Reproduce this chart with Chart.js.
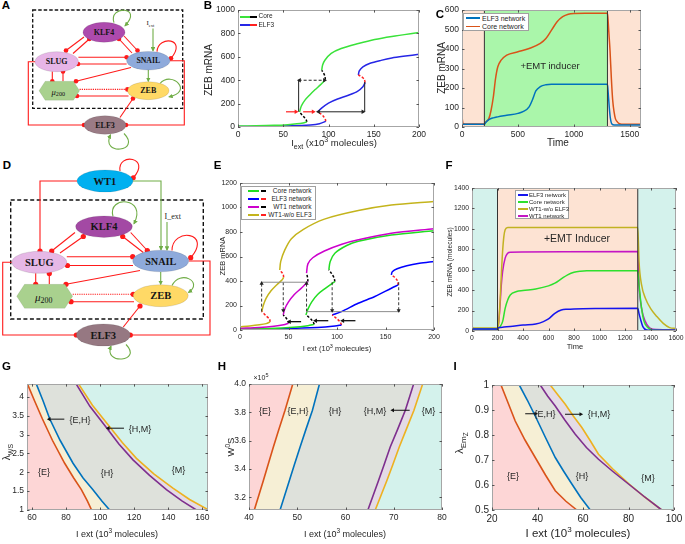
<!DOCTYPE html>
<html><head><meta charset="utf-8">
<script src="https://cdn.jsdelivr.net/npm/chart.js@4.4.0/dist/chart.umd.min.js"></script>
<style>
html,body{margin:0;padding:0;width:685px;height:544px;overflow:hidden;background:#fff;font-family:"Liberation Sans",Arial,Helvetica,sans-serif;}
.abs{position:absolute;white-space:nowrap;line-height:1;color:#262626;}
canvas{position:absolute;}
.leg{position:absolute;background:#fff;border:0.8px solid #a0a0a0;box-sizing:border-box;}
.li{position:absolute;white-space:nowrap;line-height:1;color:#262626;}
.sw{position:absolute;height:1.6px;}
#diag{position:absolute;left:0;top:0;}
</style></head><body>
<svg id="diag" width="685" height="544" xmlns="http://www.w3.org/2000/svg"></svg>
<script>
// ================= DATA =================
// Panel B : ZEB mRNA vs I_ext (x10^3 molecules)
const bXTicks = [0, 50, 100, 150, 200];
const bYTicks = [0, 200, 400, 600, 800, 1000];
const bCoreLow = [[0,8],[20,10],[40,14],[55,20],[65,27],[72,35],[76,43]];
const bCoreUn1 = [[76,43],[75.5,58],[73.5,80],[70.5,105],[68,128]];
const bCoreMid = [[68,128],[70,180],[74,230],[79,272],[85,318],[91,360],[95,392],[96.5,405]];
const bCoreUn2 = [[96.5,405],[96,435],[94.5,462],[92.5,485]];
const bCoreUp  = [[92.5,485],[93.5,530],[96,571],[103,629],[114,671],[133,714],[151,749],[170,775],[200,809]];
const bElfLow  = [[0,4],[30,6],[60,10],[80,18],[90,28],[97,48]];
const bElfUn1  = [[97,48],[96.5,65],[94.5,90],[91.5,112],[88,130]];
const bElfMid  = [[88,130],[92,160],[100,205],[110,240],[122,272],[132,305],[138,345],[140.5,380]];
const bElfUn2  = [[140.5,380],[139.5,408],[136.5,430],[133,445]];
const bElfUp   = [[133,445],[134,480],[138,515],[146,545],[158,570],[170,590],[185,607],[200,622]];
const bSolid   = [[[88,130],[139,130]], [[140,130],[140,385]], [[67,130],[67,400]]];
const bDashed  = [[[67,400],[96.5,400]]];
const bHeadsL  = [[89,130],[68,400]];
const bHeadsR  = [[138,130],[95.5,400]];
const bRedArrows = [[[53,130],[64,130]], [[72,130],[83,130]]];

// Panel C : time course
const cXTicks = [0, 500, 1000, 1500];
const cYTicks = [0, 100, 200, 300, 400, 500, 600];
const cPhases = [0, 200, 1300, 1600];
const cCoreT = [0,10,50,100,150,200,210,240,260,280,300,320,350,400,500,600,700,750,800,850,900,950,1000,1100,1200,1300,1305,1312,1323,1335,1347,1360,1371,1390,1407,1450,1600];
const cCoreY = [50,17,15,15,15,15,24,43,86,154,249,309,343,369,386,403,429,454,497,540,566,579,583,584,584,584,555,490,394,250,137,75,43,25,17,14,14];
const cElfT  = [0,100,200,210,240,280,320,400,500,550,600,630,660,700,750,800,1000,1300,1305,1315,1325,1340,1360,1600];
const cElfY  = [14,14,14,22,38,47,52,60,70,80,103,140,185,207,217,220,220,220,190,110,50,15,10,10];

// Panel E : bifurcation diagrams of four networks
const eXTicks = [0, 50, 100, 150, 200];
const eYTicks = [0, 200, 400, 600, 800, 1000, 1200];
const eCore = [
  [[0,8],[30,12],[55,22],[70,35],[76.5,46]],
  [[76.5,46],[75.5,65],[73,90],[70.5,108],[68,123]],
  [[68,123],[70,170],[74,230],[80,290],[88,340],[95,380],[97.8,395]],
  [[97.8,395],[97,425],[94.5,460],[91.6,491]],
  [[91.6,491],[93,560],[97.8,627],[110,690],[122,725],[156,775],[200,810]]];
const eElf = [
  [[0,5],[40,10],[80,20],[98,32],[104.6,41]],
  [[104.6,41],[103.5,62],[100.5,88],[97.5,108],[95,123]],
  [[95,123],[104.6,150],[121.8,218],[139,273],[156,341],[163,368]],
  [[163,368],[162.5,400],[159.5,430],[156,450]],
  [[156,450],[157,475],[162,500],[172,525],[185,545],[200,560]]];
const eWt1 = [
  [[0,14],[20,20],[35,30],[45,42],[50,55]],
  [[50,55],[49.5,75],[47.5,98],[44.6,123]],
  [[44.6,123],[46,170],[50,230],[56,290],[63,340],[68,380],[70,395]],
  [[70,395],[69.8,420],[69.2,445],[68.6,464]],
  [[68.6,464],[70,540],[75,590],[87,645],[105,700],[122,736],[156,790],[200,826]]];
const eWt1NoElf = [
  [[0,27],[10,33],[20,42],[27,52],[31,66]],
  [[31,66],[30.5,88],[27,115],[22.5,150]],
  [[22.5,150],[24,200],[27,260],[32,320],[38,370],[43.5,410],[45,430]],
  [[45,430],[44.5,455],[42.5,475],[41,490]],
  [[41,490],[42,560],[46,650],[53,745],[65,820],[87,905],[122,975],[156,1020],[200,1050]]];
const eGray   = [[[22.3,390],[70,390]], [[68,150],[165,150]]];
const eDashUp = [[22.3,150,390],[68.6,150,390]];
const eDashDn = [[44.6,390,150],[95,390,150],[163.6,390,150]];
const eLeftArrows = [[63,51,68],[91,78,76],[119,106,76]];

// Panel F : time course
const fXTicks = [0,200,400,600,800,1000,1200,1400,1600];
const fYTicks = [0,200,400,600,800,1000,1200,1400];
const fPhases = [0, 200, 1300, 1600];
const fElfT  = [0,100,200,210,250,300,400,500,560,600,650,700,750,800,1000,1300,1310,1320,1340,1370,1400,1600];
const fElfY  = [20,20,20,33,38,43,59,69,92,118,173,206,213,216,220,222,170,124,43,10,8,8];
const fCoreT = [0,100,200,220,240,260,280,300,350,400,500,600,650,700,750,800,850,900,1300,1310,1330,1350,1380,1420,1600];
const fCoreY = [20,20,20,43,92,222,304,353,386,396,412,442,468,510,550,576,586,589,589,451,222,92,33,10,8];
const fNoElfT = [0,100,200,210,220,230,240,250,260,280,300,1300,1310,1330,1360,1400,1450,1500,1550,1600];
const fNoElfY = [30,30,30,92,288,550,778,926,991,1014,1014,1014,680,451,321,222,141,75,33,25];
const fWt1T  = [0,10,100,200,210,220,230,240,260,280,300,1300,1310,1330,1360,1400,1450,1600];
const fWt1Y  = [50,20,20,20,92,255,451,582,713,762,772,778,451,222,92,26,15,12];

// Panel G : lambda_WS vs I_ext
const gXTicks = [60, 80, 100, 120, 140, 160];
const gYTicks = [1, 1.5, 2, 2.5, 3, 3.5, 4];
const gRed    = [[57.4,4.34],[61.5,3.9],[66.1,3.42],[72,2.85],[79.2,2.24],[84.5,1.85],[89,1.54],[92.5,1.24],[95,1.0]];
const gBlue   = [[62.6,4.34],[66.5,3.9],[70.4,3.42],[76.5,2.85],[84.1,2.24],[90,1.85],[95.8,1.54],[101,1.24],[105.6,1.0]];
const gPurple = [[86,4.34],[94,3.75],[104,3.17],[111,2.75],[119.3,2.33],[129,1.92],[138.9,1.54],[148,1.24],[156.5,1.0]];
const gOrange = [[87.4,4.34],[95.5,3.78],[105.6,3.21],[113,2.79],[121.3,2.37],[131.5,1.96],[142.7,1.58],[152.5,1.28],[163.3,1.01]];
const gArrows = [[79,70.2,3.41],[114,104.8,3.17]];

// Panel H : W0S (x10^5) vs I_ext
const hXTicks = [40, 50, 60, 70, 80];
const hYTicks = [3.2, 3.4, 3.6, 3.8, 4];
const hRed    = [[49.07,4.0],[47.47,3.815],[46.2,3.68],[45.05,3.555],[43.95,3.43],[42.98,3.318],[41.1,3.11]];
const hBlue   = [[54.6,4.0],[53.15,3.815],[51.8,3.68],[50.59,3.555],[49.4,3.43],[48.37,3.318],[46.44,3.11]];
const hPurple = [[74.12,4.0],[72.4,3.815],[70.8,3.68],[69.27,3.555],[68.0,3.43],[66.85,3.318],[64.64,3.11]];
const hOrange = [[75.99,4.0],[74.19,3.815],[72.6,3.68],[71.14,3.555],[69.8,3.43],[68.58,3.318],[66.16,3.11]];
const hArrows = [[73.3,69.8,3.815]];

// Panel I : lambda_EmZ vs I_ext
const iXTicks = [20, 40, 60, 80, 100];
const iYTicks = [0.5, 0.6, 0.7, 0.8, 0.9, 1];
const iRed    = [[23.95,1.0],[27,0.93],[30.2,0.856],[34.5,0.78],[39.0,0.71],[43.5,0.64],[47.8,0.577],[52.5,0.535],[57.3,0.5]];
const iBlue   = [[32.0,1.0],[35.5,0.94],[39.0,0.876],[43.5,0.79],[47.8,0.71],[51.5,0.655],[55.1,0.604],[59,0.55],[63.2,0.5]];
const iPurple = [[41.2,1.0],[44.5,0.955],[47.8,0.916],[52,0.86],[56.6,0.803],[61.5,0.75],[66.8,0.703],[73,0.655],[80,0.604],[87,0.553],[94.6,0.5]];
const iOrange = [[45.6,1.0],[49,0.96],[52.2,0.923],[55.8,0.875],[59.5,0.83],[63,0.78],[66.8,0.723],[73,0.665],[80,0.606],[87,0.553],[94.6,0.5]];
const iArrows = [[34.6,39.2,0.885],[52.1,59.0,0.883]];

// ================= HELPERS =================
const FONT = '"Liberation Sans", Arial, Helvetica, sans-serif';
const P = a => a.map(p => ({x: p[0], y: p[1]}));
const zip = (t, y) => t.map((v, i) => [v, y[i]]);
function line(d, color, o = {}) {
  return Object.assign({data: P(d), borderColor: color, backgroundColor: color, borderWidth: 1.5,
    pointRadius: 0, fill: false, tension: 0.3, order: 2}, o);
}
function shape(d, color) {
  return {data: P(d), borderWidth: 0, borderColor: 'rgba(0,0,0,0)', backgroundColor: color,
    fill: 'shape', pointRadius: 0, tension: 0, order: 10};
}
function heads(pts, color, rot, r = 3) {
  return {data: P(pts), showLine: false, pointStyle: 'triangle', pointRadius: r, pointRotation: rot,
    backgroundColor: color, borderColor: color, borderWidth: 0, order: 0};
}
const framePlugin = {
  id: 'frame',
  afterDraw(chart) {
    const {ctx, chartArea: a, scales} = chart;
    ctx.save();
    ctx.strokeStyle = '#a6a6a6'; ctx.lineWidth = 1;
    ctx.strokeRect(Math.round(a.left) + 0.5, Math.round(a.top) + 0.5, Math.round(a.width) - 1, Math.round(a.height) - 1);
    ctx.strokeStyle = '#555';
    ctx.beginPath();
    scales.x.ticks.forEach(t => { const px = Math.round(scales.x.getPixelForValue(t.value)) + 0.5;
      ctx.moveTo(px, a.bottom); ctx.lineTo(px, a.bottom - 2.5); ctx.moveTo(px, a.top); ctx.lineTo(px, a.top + 2.5); });
    scales.y.ticks.forEach(t => { const py = Math.round(scales.y.getPixelForValue(t.value)) + 0.5;
      ctx.moveTo(a.left, py); ctx.lineTo(a.left + 2.5, py); ctx.moveTo(a.right, py); ctx.lineTo(a.right - 2.5, py); });
    ctx.stroke();
    ctx.restore();
  }
};
function makeChart(c) {
  const yW = 32, xH = 18, padT = 8, padR = 16;
  const cv = document.createElement('canvas');
  const W = yW + (c.R - c.L) + padR, H = padT + (c.B - c.T) + xH;
  cv.width = W; cv.height = H;
  Object.assign(cv.style, {left: (c.L - yW) + 'px', top: (c.T - padT) + 'px', width: W + 'px', height: H + 'px'});
  document.body.appendChild(cv);
  const tk = (vals, fmt) => ({
    afterBuildTicks: s => { s.ticks = vals.map(v => ({value: v})); },
    grid: {display: false, drawTicks: false}, border: {display: false},
    ticks: {font: {family: FONT, size: c.fs}, color: '#262626', padding: 3, maxRotation: 0, autoSkip: false,
      callback: fmt || (v => String(v))}
  });
  const x = Object.assign({type: 'linear', position: 'bottom', min: c.xMin, max: c.xMax,
    afterFit: s => { s.height = xH; }}, tk(c.xTicks, c.xFmt));
  const y = Object.assign({type: 'linear', position: 'left', min: c.yMin, max: c.yMax,
    afterFit: s => { s.width = yW; }}, tk(c.yTicks, c.yFmt));
  return new Chart(cv, {
    type: 'line',
    data: {datasets: c.datasets},
    options: {responsive: false, animation: false, events: [], devicePixelRatio: 1,
      layout: {padding: {top: padT, right: padR, left: 0, bottom: 0}},
      plugins: {legend: {display: false}, tooltip: {enabled: false}},
      scales: {x, y}},
    plugins: [framePlugin]
  });
}
function txt(x, y, html, fs, o = {}) {
  const d = document.createElement('div');
  d.className = 'abs';
  d.style.left = x + 'px'; d.style.top = y + 'px'; d.style.fontSize = fs + 'px';
  d.style.transform = o.rot ? 'translate(-50%,-50%) rotate(-90deg)' : 'translate(-50%,-50%)';
  if (o.bold) { d.style.fontWeight = 'bold'; d.style.color = '#000'; }
  d.innerHTML = html;
  document.body.appendChild(d);
}
function legend(x, y, w, h, items, fs, border) {
  const d = document.createElement('div');
  d.className = 'leg';
  Object.assign(d.style, {left: x + 'px', top: y + 'px', width: w + 'px', height: h + 'px'});
  if (!border) d.style.border = 'none', d.style.background = 'transparent';
  items.forEach(it => {
    it.sw.forEach(s => {
      const e = document.createElement('div');
      e.className = 'sw';
      Object.assign(e.style, {left: s[0] + 'px', width: s[1] + 'px', top: (it.y - 0.8) + 'px', background: s[2], height: (s[3] || 1.6) + 'px'});
      d.appendChild(e);
    });
    const t = document.createElement('div');
    t.className = 'li'; t.style.fontSize = fs + 'px'; t.style.top = (it.y - fs * 0.5) + 'px';
    if (it.right !== undefined) { t.style.right = it.right + 'px'; } else { t.style.left = it.x + 'px'; }
    t.textContent = it.label;
    d.appendChild(t);
  });
  document.body.appendChild(d);
}
const dash = {borderDash: [2.5, 1.8]};

// ================= PANEL B =================
{
  const G = '#3ae23a', K = '#000', BL = '#2626e6', R = '#ff2020';
  const ds = [
    line(bCoreLow, G), line(bCoreUn1, K, dash), line(bCoreMid, G), line(bCoreUn2, K, dash), line(bCoreUp, G),
    line(bElfLow, BL), line(bElfUn1, R, dash), line(bElfMid, BL), line(bElfUn2, R, dash), line(bElfUp, BL)
  ];
  bSolid.forEach(s => ds.push(line(s, '#222', {borderWidth: 1, tension: 0, order: 1})));
  bDashed.forEach(s => ds.push(line(s, '#222', {borderWidth: 1, tension: 0, order: 1, borderDash: [3, 2]})));
  bRedArrows.forEach(s => ds.push(line(s, R, {borderWidth: 1.2, tension: 0, order: 1})));
  ds.push(heads(bHeadsL, '#222', -90, 2.6), heads(bHeadsR, '#222', 90, 2.6));
  ds.push(heads(bRedArrows.map(s => s[1]), R, 90, 2.6));
  makeChart({L: 238, T: 10, R: 419, B: 127, xMin: 0, xMax: 200, yMin: 0, yMax: 1000,
    xTicks: bXTicks, yTicks: bYTicks, fs: 8.5, datasets: ds});
  legend(238, 12, 40, 18, [
    {y: 4.7, x: 20.5, label: 'Core', sw: [[2, 10, G, 2.2], [12, 7, K, 2.2]]},
    {y: 13, x: 20.5, label: 'ELF3', sw: [[2, 10, BL, 2.2], [12, 7, R, 2.2]]}
  ], 6.5, false);
  txt(209, 70, 'ZEB mRNA', 10, {rot: true});
  txt(334, 143, 'I<sub style="font-size:7px">ext</sub> (x10<sup style="font-size:7px">3</sup> molecules)', 9.5);
}

// ================= PANEL C =================
{
  const phaseCols = ['#fde3d3', '#aaf6aa', '#fde3d3'];
  const ds = [];
  for (let i = 0; i < 3; i++) {
    ds.push(shape([[cPhases[i], 0], [cPhases[i + 1], 0], [cPhases[i + 1], 600], [cPhases[i], 600]], phaseCols[i]));
  }
  ds.push(line(zip(cElfT, cElfY), '#0072bd', {cubicInterpolationMode: 'monotone'}));
  ds.push(line(zip(cCoreT, cCoreY), '#d95319', {cubicInterpolationMode: 'monotone'}));
  [200, 1300].forEach(t => ds.push(line([[t, 0], [t, 600]], '#333', {borderWidth: 1, tension: 0, order: 1})));
  makeChart({L: 462, T: 10, R: 641, B: 127, xMin: 0, xMax: 1600, yMin: 0, yMax: 600,
    xTicks: cXTicks, yTicks: cYTicks, fs: 8.5, datasets: ds});
  legend(463, 12.5, 66, 18.5, [
    {y: 4.7, x: 18, label: 'ELF3 network', sw: [[2, 14, '#0072bd']]},
    {y: 13, x: 18, label: 'Core network', sw: [[2, 14, '#d95319']]}
  ], 7, true);
  txt(550, 66, '+EMT inducer', 9.5);
  txt(442, 68, 'ZEB mRNA', 10, {rot: true});
  txt(558, 143, 'Time', 10);
}

// ================= PANEL E =================
{
  const G = '#22dd22', BL = '#0000ff', M = '#cc00cc', O = '#c4b41c', K = '#000', R = '#ff2020';
  const ds = [];
  const branches = (br, st, un) => br.forEach((b, i) => ds.push(line(b, i % 2 ? un : st, i % 2 ? dash : {})));
  branches(eWt1NoElf, O, R); branches(eWt1, M, K); branches(eCore, G, K); branches(eElf, BL, R);
  eGray.forEach(s => ds.push(line(s, '#8c8c8c', {borderWidth: 1, tension: 0, order: 1})));
  eDashUp.forEach(s => ds.push(line([[s[0], s[1]], [s[0], s[2]]], '#222', {borderWidth: 0.9, tension: 0, order: 1, borderDash: [3, 2]})));
  eDashDn.forEach(s => ds.push(line([[s[0], s[1]], [s[0], s[2]]], '#222', {borderWidth: 0.9, tension: 0, order: 1, borderDash: [3, 2]})));
  ds.push(heads(eDashUp.map(s => [s[0], s[2] - 10]), '#222', 0, 2.4));
  ds.push(heads(eDashDn.map(s => [s[0], s[2] + 10]), '#222', 180, 2.4));
  eLeftArrows.forEach(s => ds.push(line([[s[0], s[2]], [s[1], s[2]]], '#111', {borderWidth: 1.3, tension: 0, order: 1})));
  ds.push(heads(eLeftArrows.map(s => [s[1], s[2]]), '#111', -90, 2.6));
  makeChart({L: 240, T: 183, R: 434, B: 330, xMin: 0, xMax: 200, yMin: 0, yMax: 1200,
    xTicks: eXTicks, yTicks: eYTicks, fs: 7, datasets: ds});
  legend(240.5, 185.5, 75, 34, [
    {y: 4.5, right: 3, label: 'Core network', sw: [[6, 11, G], [19, 5, K]]},
    {y: 12.5, right: 3, label: 'ELF3 network', sw: [[6, 11, BL], [19, 5, R]]},
    {y: 20.5, right: 3, label: 'WT1 network', sw: [[6, 11, M], [19, 5, K]]},
    {y: 28.5, right: 3, label: 'WT1-w/o ELF3', sw: [[6, 11, O], [19, 5, R]]}
  ], 6.5, true);
  txt(222.5, 256, 'ZEB mRNA', 7.5, {rot: true});
  txt(337, 348, 'I ext (10<sup style="font-size:5.5px">3</sup> molecules)', 7.5);
}

// ================= PANEL F =================
{
  const phaseCols = ['#d4f2ec', '#fde3d3', '#d4f2ec'];
  const ds = [];
  for (let i = 0; i < 3; i++) {
    ds.push(shape([[fPhases[i], 0], [fPhases[i + 1], 0], [fPhases[i + 1], 1400], [fPhases[i], 1400]], phaseCols[i]));
  }
  const mono = {cubicInterpolationMode: 'monotone'};
  ds.push(line(zip(fElfT, fElfY), '#1515ee', mono));
  ds.push(line(zip(fCoreT, fCoreY), '#2ee02e', mono));
  ds.push(line(zip(fNoElfT, fNoElfY), '#c2b222', mono));
  ds.push(line(zip(fWt1T, fWt1Y), '#c416c4', mono));
  [200, 1300].forEach(t => ds.push(line([[t, 0], [t, 1400]], '#333', {borderWidth: 1, tension: 0, order: 1})));
  makeChart({L: 472, T: 188, R: 676, B: 331, xMin: 0, xMax: 1600, yMin: 0, yMax: 1400,
    xTicks: fXTicks, yTicks: fYTicks, fs: 6.8, datasets: ds});
  legend(514.5, 190, 54, 29, [
    {y: 4.2, x: 13.5, label: 'ELF3 network', sw: [[2, 10, '#1515ee']]},
    {y: 11.2, x: 13.5, label: 'Core network', sw: [[2, 10, '#2ee02e']]},
    {y: 18.2, x: 13.5, label: 'WT1-w/o ELF3', sw: [[2, 10, '#c2b222']]},
    {y: 25.2, x: 13.5, label: 'WT1 network', sw: [[2, 10, '#c416c4']]}
  ], 6, true);
  txt(577, 238, '+EMT Inducer', 10.5);
  txt(450, 262, 'ZEB mRNA (molecules)', 6.6, {rot: true});
  txt(575, 347, 'Time', 7.5);
}

// ================= PANELS G, H, I (phase diagrams) =================
const RC = {E: '#fdd6d6', EH: '#f6efd5', H: '#dee1db', HM: '#e4dbe6', M: '#d4f2ec'};
const LC = {red: '#d95319', blue: '#0072bd', purple: '#7e2f8e', orange: '#edb120'};
function phaseSets(red, blue, purple, orange, xmin, xmax, ymin, ymax, hmCorner, mCorners) {
  const rev = a => a.slice().reverse();
  return [
    shape([[xmin, ymax], ...red, [xmin, ymin]], RC.E),
    shape([...red, ...rev(blue)], RC.EH),
    shape([...blue, ...rev(purple)], RC.H),
    shape([...purple, ...hmCorner, ...rev(orange)], RC.HM),
    shape([...orange, ...mCorners], RC.M),
    line(red, LC.red, {tension: 0, borderWidth: 1.6}),
    line(blue, LC.blue, {tension: 0, borderWidth: 1.6}),
    line(purple, LC.purple, {tension: 0, borderWidth: 1.6}),
    line(orange, LC.orange, {tension: 0, borderWidth: 1.6})
  ];
}
function arrowSets(arr, rot) {
  const ds = arr.map(s => line([[s[0], s[2]], [s[1], s[2]]], '#111', {borderWidth: 1, tension: 0, order: 1}));
  ds.push(heads(arr.map(s => [s[1], s[2]]), '#111', rot, 2.4));
  return ds;
}
{
  const ds = phaseSets(gRed, gBlue, gPurple, gOrange, 57.1, 163.3, 1, 4.34, [[163.3, 1]], [[163.3, 4.34]])
    .concat(arrowSets(gArrows, -90));
  makeChart({L: 27, T: 384, R: 208, B: 510, xMin: 57.1, xMax: 163.3, yMin: 1, yMax: 4.34,
    xTicks: gXTicks, yTicks: gYTicks, fs: 8.5, datasets: ds});
  txt(44, 472, '{E}', 9); txt(80, 419.5, '{E,H}', 9); txt(107, 472.5, '{H}', 9);
  txt(140, 428.5, '{H,M}', 9); txt(178.5, 470, '{M}', 9);
  txt(7.5, 452, 'λ<sub style="font-size:7px">WS</sub>', 10, {rot: true});
  txt(117, 533, 'I ext (10<sup style="font-size:6.5px">3</sup> molecules)', 9);
}
{
  const ds = phaseSets(hRed, hBlue, hPurple, hOrange, 40, 80, 3.11, 4.0, [], [[80, 3.11], [80, 4.0]])
    .concat(arrowSets(hArrows, -90));
  makeChart({L: 249, T: 384, R: 442, B: 510, xMin: 40, xMax: 80, yMin: 3.11, yMax: 4.0,
    xTicks: hXTicks, yTicks: hYTicks, fs: 8.5, yFmt: v => v.toFixed(1), datasets: ds});
  txt(265, 411, '{E}', 9); txt(298, 411, '{E,H}', 9); txt(335, 411, '{H}', 9);
  txt(375, 410.5, '{H,M}', 9); txt(428.5, 410.5, '{M}', 9);
  txt(261, 377, '×10<sup style="font-size:5.5px">5</sup>', 7);
  txt(229.5, 447, 'W<sup style="font-size:6.5px">0</sup>S', 9.5, {rot: true});
  txt(345, 533, 'I ext (10<sup style="font-size:6.5px">3</sup> molecules)', 9);
}
{
  const ds = phaseSets(iRed, iBlue, iPurple, iOrange, 20, 100, 0.5, 1.0, [], [[100, 0.5], [100, 1.0]])
    .concat(arrowSets(iArrows, 90));
  makeChart({L: 492, T: 384, R: 674, B: 510, xMin: 20, xMax: 100, yMin: 0.5, yMax: 1.0,
    xTicks: iXTicks, yTicks: iYTicks, fs: 10, yFmt: v => (v === 1 ? '1' : v.toFixed(1)), datasets: ds});
  txt(513, 475.5, '{E}', 9); txt(545, 414, '{E,H}', 9); txt(582, 475.5, '{H}', 9);
  txt(599, 413.5, '{H,M}', 9); txt(648, 478, '{M}', 9);
  txt(462, 443, 'λ<sub style="font-size:8px">Em<sub style="font-size:6.5px">Z</sub></sub>', 11, {rot: true});
  txt(578, 533, 'I ext (10<sup style="font-size:8px">3</sup> molecules)', 11.5);
}

// ================= PANEL LABELS =================
[['A', 6, 6], ['B', 208, 6], ['C', 440, 15], ['D', 7, 166], ['E', 217.5, 166], ['F', 449, 166],
 ['G', 6.5, 367], ['H', 222, 367], ['I', 455, 367]].forEach(l => txt(l[1], l[2], l[0], 11.5, {bold: true}));

// ================= NETWORK DIAGRAMS (A, D) =================
(function () {
  let s = '<defs><marker id="ga" viewBox="0 0 10 10" refX="8" refY="5" markerWidth="4.2" markerHeight="4.2" orient="auto">' +
    '<path d="M0,0 L10,5 L0,10 z" fill="#70ad47"/></marker></defs>';
  const RED = '#ff1a1a', GR = '#70ad47';
  const ell = (cx, cy, rx, ry, fill, label, fs) => {
    s += `<ellipse cx="${cx}" cy="${cy}" rx="${rx}" ry="${ry}" fill="${fill}" stroke="rgba(0,0,0,0.18)" stroke-width="0.6"/>`;
    s += `<text x="${cx}" y="${cy}" font-size="${fs}" text-anchor="middle" dominant-baseline="central" font-family="Liberation Serif, DejaVu Serif, serif" font-weight="bold" fill="#151515">${label}</text>`;
  };
  const hex = (x0, x1, cy, h, fs) => {
    const d = h * 0.65;
    s += `<polygon points="${x0},${cy} ${x0 + d},${cy - h} ${x1 - d},${cy - h} ${x1},${cy} ${x1 - d},${cy + h} ${x0 + d},${cy + h}" fill="#a9d18e" stroke="rgba(0,0,0,0.12)" stroke-width="0.6"/>`;
    s += `<text x="${(x0 + x1) / 2 - 1}" y="${cy + 1}" font-size="${fs}" text-anchor="middle" dominant-baseline="central" font-family="Liberation Serif, DejaVu Serif, serif" fill="#151515"><tspan font-style="italic">μ</tspan><tspan font-size="${fs * 0.72}" dy="${fs * 0.25}">200</tspan></text>`;
  };
  const inh = (pts, dotted, r = 2.3) => {
    s += `<polyline points="${pts.map(p => p.join(',')).join(' ')}" fill="none" stroke="${RED}" stroke-width="1.1"${dotted ? ' stroke-dasharray="1.2,1"' : ''}/>`;
    const e = pts[pts.length - 1];
    s += `<circle cx="${e[0]}" cy="${e[1]}" r="${r}" fill="${RED}"/>`;
  };
  const inhPath = (d, end, r = 2.3) => {
    s += `<path d="${d}" fill="none" stroke="${RED}" stroke-width="1.1"/><circle cx="${end[0]}" cy="${end[1]}" r="${r}" fill="${RED}"/>`;
  };
  const act = d => { s += `<path d="${d}" fill="none" stroke="${GR}" stroke-width="1.1" marker-end="url(#ga)"/>`; };
  const label = (x, y, t, fs) => { s += `<text x="${x}" y="${y}" font-size="${fs}" font-family="Liberation Serif, DejaVu Serif, serif" fill="#222">${t}</text>`; };

  // ---- Panel A ----
  s += '<rect x="32.7" y="10" width="150" height="98.3" fill="none" stroke="#111" stroke-width="1.3" stroke-dasharray="3.5,2"/>';
  inh([[84, 37], [66, 50.5]]); inh([[73, 53.5], [89.3, 39]]);
  inh([[132, 53], [119, 39]]); inh([[124, 36], [137.5, 50.5]]);
  inh([[78.4, 57.3], [126.6, 57.3]]); inh([[126.6, 64], [78, 64]]);
  inh([[52.3, 71.6], [52.3, 81.2]]); inh([[63, 81.2], [63, 71.5]]);
  inh([[131, 67.5], [76, 81.2]]);
  inh([[79.6, 89.4], [127.4, 89.4]], true);
  inh([[128.5, 96], [77, 96]]);
  inh([[120, 117.5], [133, 98.5]]);
  inh([[35, 61.7], [28.3, 61.7], [28.3, 125], [84, 125]]);
  inh([[170, 60.7], [184.3, 60.7], [184.3, 125], [126, 125]]);
  inhPath('M157,51.6 C158,35 188,38 171,58.3', [171, 58.3]);
  act('M114,22.6 C108,5 144,6 125,25.8');
  act('M153,28.5 L153,50.8');
  act('M148.3,70 L148.3,81.2');
  act('M160,83.5 C172,70 194,92 169,96.8');
  act('M124,133.5 C142,152 100,156 110.5,134.8');
  label(146.5, 25, 'I<tspan font-size="4.5" dy="1.5">ext</tspan>', 7);
  ell(104, 32.3, 21, 10, '#ad4aad', 'KLF4', 8);
  ell(148.3, 60.7, 21.7, 9.3, '#8eaadb', 'SNAIL', 7.8);
  ell(56.7, 61.7, 21.7, 10, '#e7b5e7', 'SLUG', 8);
  hex(39, 79.6, 90.7, 9.5, 8.5);
  ell(148.3, 90.7, 20.7, 9, '#ffd966', 'ZEB', 8);
  ell(105, 125, 21, 9.3, '#9a7b85', 'ELF3', 8);

  // ---- Panel D ----
  s += '<rect x="10.7" y="200" width="192.6" height="119" fill="none" stroke="#111" stroke-width="1.4" stroke-dasharray="4,2.5"/>';
  inhPath('M120,171 C117,152 152,157 133.3,177.7', [133.3, 177.7], 2.5);
  inh([[77, 181], [40, 181], [40, 251]], false, 2.6);
  inh([[75, 232.5], [51.7, 251]], false, 2.6); inh([[60, 253], [83.3, 236.5]], false, 2.6);
  inh([[130.7, 232.5], [147.3, 250.5]], false, 2.6); inh([[143.3, 252.5], [122.7, 236.5]], false, 2.6);
  inh([[66.8, 256.7], [132.7, 256.7]], false, 2.6); inh([[133, 265.5], [67.5, 265.5]], false, 2.6);
  inh([[35.7, 273.3], [35.7, 284.3]], false, 2.6); inh([[49.3, 284.3], [49.3, 273.6]], false, 2.6);
  inh([[140, 270.5], [66, 284.3]], false, 2.6);
  inh([[72.7, 294.3], [133.2, 294.3]], true, 2.6);
  inh([[134, 301.7], [71, 301.7]], false, 2.6);
  inh([[123.3, 327], [140, 306]], false, 2.6);
  inh([[11.8, 262.3], [2.7, 262.3], [2.7, 335], [76.3, 335]], false, 2.6);
  inh([[188.7, 261], [210, 261], [210, 335], [130.3, 335]], false, 2.6);
  inhPath('M172,250.5 C172,227 213,232 190.7,257.7', [190.7, 257.7], 2.6);
  act('M133,181 L161,181 L161,249.8');
  act('M167,222 L167,250');
  act('M113,216.3 C107,195 148,197 134,223.8');
  act('M160.7,272 L160.7,284.3');
  act('M172,285.5 C180,269 204,282 188.5,292.5');
  act('M126,344.5 C143,362 103,365 111,346.2');
  label(164.5, 219, 'I_ext', 8);
  ell(105, 181, 28, 11, '#00b0f0', 'WT1', 10.5);
  ell(104, 226.7, 28.3, 10.7, '#a349a4', 'KLF4', 10.5);
  ell(160.7, 261, 28, 10.8, '#8eaadb', 'SNAIL', 10.2);
  ell(39.3, 262.3, 27.5, 11, '#e6b8e6', 'SLUG', 10.5);
  hex(16.7, 72.7, 296.3, 12, 11);
  ell(160.7, 295.7, 27.5, 11, '#ffd966', 'ZEB', 10.5);
  ell(103.3, 335, 27, 11, '#967882', 'ELF3', 10.5);

  document.getElementById('diag').innerHTML = s;
})();
</script>
</body></html>
